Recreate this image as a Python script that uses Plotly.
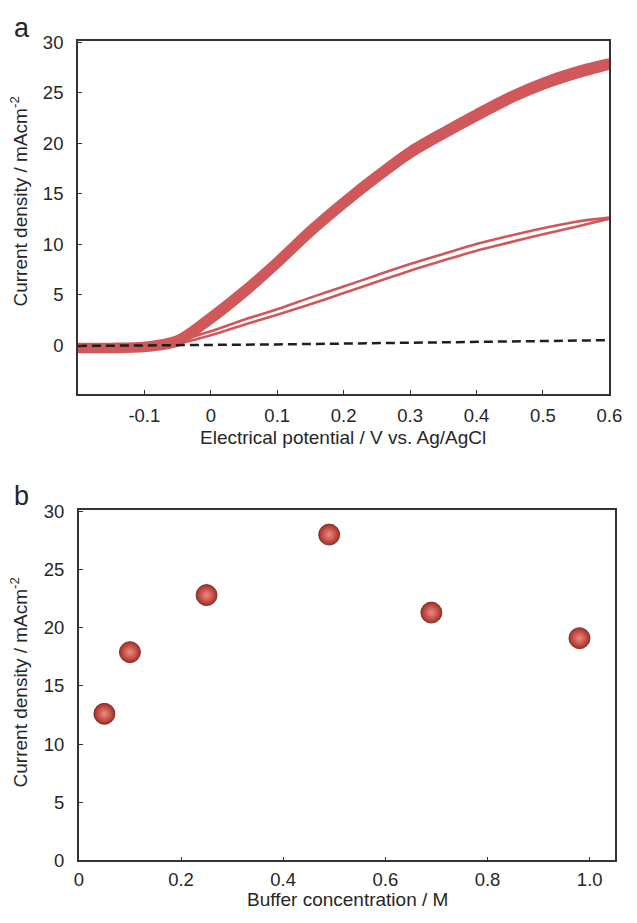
import plotly.graph_objects as go

# ---------------- Panel a data (CV curves) ----------------
potential = [-0.2, -0.15, -0.1, -0.05, 0.0, 0.05, 0.1, 0.15, 0.2, 0.25, 0.3,
             0.35, 0.4, 0.45, 0.5, 0.55, 0.6]
# high-current electrode (thick band): forward and reverse scans
high_fwd = [-0.45, -0.45, -0.35, 0.2, 2.4, 5.0, 7.9, 11.0, 13.8, 16.4, 18.8,
            20.7, 22.5, 24.2, 25.6, 26.7, 27.6]
high_rev = [-0.05, -0.05, 0.05, 0.7, 3.0, 5.6, 8.5, 11.6, 14.4, 17.0, 19.4,
            21.3, 23.1, 24.8, 26.2, 27.3, 28.1]
# low-current electrode (thin double line): forward and reverse scans
low_fwd = [-0.35, -0.35, -0.25, 0.15, 1.0, 2.05, 3.03, 4.08, 5.18, 6.3, 7.4,
           8.4, 9.38, 10.2, 11.0, 11.75, 12.55]
low_rev = [-0.1, -0.1, 0.0, 0.45, 1.4, 2.55, 3.58, 4.73, 5.83, 6.95, 8.05,
           9.05, 10.03, 10.85, 11.6, 12.25, 12.65]
# blank (dashed line)
blank_x = [-0.2, -0.1, 0.0, 0.1, 0.2, 0.3, 0.4, 0.5, 0.6]
blank_y = [-0.05, -0.02, 0.03, 0.1, 0.18, 0.27, 0.36, 0.44, 0.52]

a_xticks = [-0.1, 0.0, 0.1, 0.2, 0.3, 0.4, 0.5, 0.6]
a_xticktext = ["-0.1", "0", "0.1", "0.2", "0.3", "0.4", "0.5", "0.6"]
a_yticks = [0, 5, 10, 15, 20, 25, 30]

# ---------------- Panel b data ----------------
buffer_conc = [0.05, 0.10, 0.25, 0.49, 0.69, 0.98]
current_density = [12.6, 17.9, 22.8, 28.0, 21.3, 19.1]
b_xticks = [0, 0.2, 0.4, 0.6, 0.8, 1.0]
b_xticktext = ["0", "0.2", "0.4", "0.6", "0.8", "1.0"]
b_yticks = [0, 5, 10, 15, 20, 25, 30]

W, H = 637, 923
FONT = "Liberation Sans, Arial, sans-serif"
TXT = "#262626"
AX = "#333333"
RED = "#d0575a"

fig = go.Figure()

for ys in [high_fwd, high_rev]:
    fig.add_trace(go.Scatter(x=potential, y=ys, mode="lines",
                             line=dict(color=RED, width=6.5, shape="spline", smoothing=0.8),
                             xaxis="x", yaxis="y", showlegend=False))
for ys in [low_fwd, low_rev]:
    fig.add_trace(go.Scatter(x=potential, y=ys, mode="lines",
                             line=dict(color=RED, width=2.6, shape="spline", smoothing=0.8),
                             xaxis="x", yaxis="y", showlegend=False))
fig.add_trace(go.Scatter(x=blank_x, y=blank_y, mode="lines",
                         line=dict(color="#1e1e1e", width=2.5, dash="9px,5px"),
                         xaxis="x", yaxis="y", showlegend=False))

fig.add_trace(go.Scatter(x=buffer_conc, y=current_density, mode="markers",
                         marker=dict(size=21, color="#a82c28",
                                     gradient=dict(type="radial", color="#ee8c82"),
                                     line=dict(color="rgba(95,45,35,0.85)", width=1)),
                         xaxis="x2", yaxis="y2", showlegend=False))

def px2x(px):
    return px / W

def px2y(py):
    return 1 - py / H

axis_common = dict(showline=True, linecolor=AX, linewidth=1.5, mirror=True,
                   ticks="inside", ticklen=4, tickwidth=1.2, tickcolor=AX,
                   showgrid=False, zeroline=False,
                   tickfont=dict(family=FONT, size=18.5, color=TXT))

fig.update_layout(
    width=W, height=H,
    margin=dict(l=0, r=0, t=0, b=0),
    paper_bgcolor="white", plot_bgcolor="white",
    xaxis=dict(domain=[px2x(75), px2x(622)], range=[-0.2, 0.6],
               tickvals=a_xticks, ticktext=a_xticktext, anchor="y",
               ticklabelstandoff=4, **axis_common),
    yaxis=dict(domain=[px2y(393), px2y(33)], range=[-4.8, 30.1],
               tickvals=a_yticks, anchor="x", ticklabelstandoff=9, **axis_common),
    xaxis2=dict(domain=[px2x(76), px2x(628)], range=[0, 1.05],
                tickvals=b_xticks, ticktext=b_xticktext, anchor="y2",
                ticklabelstandoff=2, **axis_common),
    yaxis2=dict(domain=[px2y(869.3), px2y(511.7)], range=[0, 30.1],
                tickvals=b_yticks, anchor="x2", ticklabelstandoff=9, **axis_common),
)

ann_font = dict(family=FONT, size=19, color=TXT)
annotations = [
    dict(text="a", x=px2x(17), y=px2y(19), font=dict(family=FONT, size=27, color=TXT)),
    dict(text="b", x=px2x(17), y=px2y(497), font=dict(family=FONT, size=27, color=TXT)),
    dict(text="Current density / mAcm<sup>-2</sup>", x=px2x(14), y=px2y(197),
         textangle=-90, font=ann_font),
    dict(text="Current density / mAcm<sup>-2</sup>", x=px2x(14), y=px2y(688),
         textangle=-90, font=ann_font),
    dict(text="Electrical potential / V vs. Ag/AgCl", x=px2x(348), y=px2y(437),
         font=ann_font),
    dict(text="Buffer concentration / M", x=px2x(352), y=px2y(909), font=ann_font),
]
for a in annotations:
    a.update(xref="paper", yref="paper", xanchor="center", yanchor="middle",
             showarrow=False)
fig.update_layout(annotations=annotations)

fig.write_html("out.html")
